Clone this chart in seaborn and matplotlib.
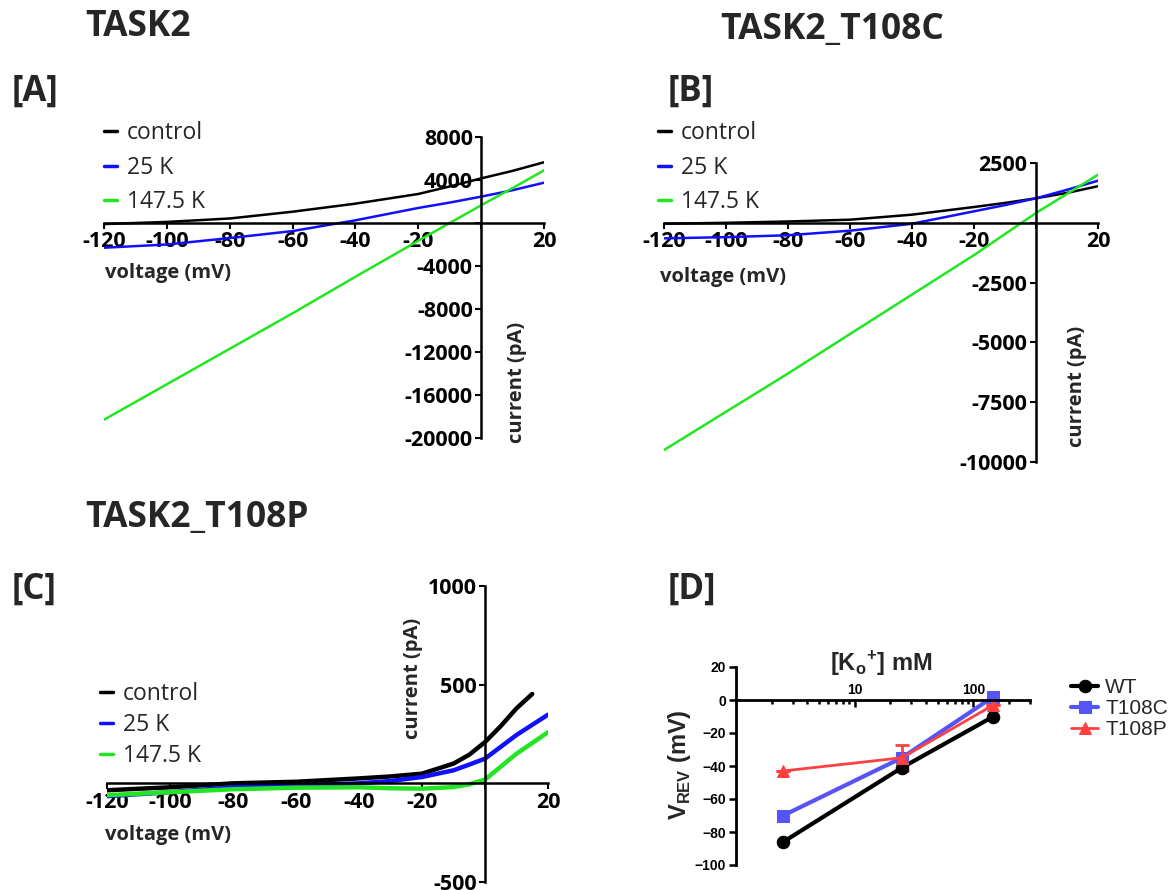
import matplotlib
matplotlib.use("Agg")
import matplotlib.pyplot as plt
import matplotlib.ticker as mticker
import seaborn as sns

W, H = 1175, 890

# [A] TASK2 - current (pA) vs voltage (mV)
a_volt = [-120, -100, -80, -60, -40, -20, -10, 0, 10, 20]
a_control = [-100, 100, 420, 1050, 1800, 2700, 3400, 4150, 4850, 5650]
a_25k = [-2300, -2000, -1400, -750, 250, 1400, 1900, 2450, 3050, 3750]
a_147k = [-18300, -15000, -11700, -8400, -5000, -1650, 0, 1650, 3250, 4900]

# [B] TASK2_T108C
b_volt = [-120, -100, -80, -60, -40, -20, -10, 0, 10, 20]
b_control = [-40, 0, 55, 130, 340, 660, 830, 1025, 1250, 1530]
b_25k = [-650, -600, -520, -330, -40, 480, 740, 1025, 1380, 1760]
b_147k = [-9500, -7900, -6300, -4650, -3000, -1350, -470, 410, 1210, 2010]

# [C] TASK2_T108P
c_volt_ctrl = [-120, -100, -80, -60, -40, -30, -20, -10, -5, 0, 5, 10, 15]
c_control = [-35, -20, 0, 8, 25, 35, 49, 100, 145, 209, 290, 380, 453]
c_volt = [-120, -100, -80, -60, -40, -30, -20, -10, -5, 0, 10, 20]
c_25k = [-65, -45, -20, -10, 0, 12, 32, 66, 95, 125, 245, 348]
c_147k = [-60, -45, -30, -22, -20, -25, -27, -19, -5, 19, 150, 259]

# [D] reversal potential vs external K+
k_out = [2.5, 25, 147.5]
vrev_wt = [-86, -41, -10]
vrev_t108c = [-70, -35, 2]
vrev_t108p = [-43, -35, -3]
err_t108p = [0, 8, 0]

series_names = ["control", "25 K", "147.5 K"]
series_colors = ["black", "#1010ff", "#22e622"]

sns.set_theme(style="ticks")
plt.rcParams["font.family"] = ["Open Sans", "DejaVu Sans"]

fig = plt.figure(figsize=(W / 100, H / 100), dpi=100)


def px_axes(left, right, top, bottom):
    return fig.add_axes([left / W, 1 - bottom / H, (right - left) / W, (bottom - top) / H])


def fig_text(x, y, s, **kw):
    fig.text(x / W, 1 - y / H, s, **kw)


def iv_panel(ax, curves, ylim, ystep, lw, legend_xy, legend_spacing):
    for (volts, amps), name, color in zip(curves, series_names, series_colors):
        sns.lineplot(x=volts, y=amps, color=color, lw=lw, ax=ax, label=name)
    ax.set_xlim(-120, 20)
    ax.set_ylim(*ylim)
    for side in ["top", "right"]:
        ax.spines[side].set_visible(False)
    ax.spines["left"].set_position(("data", 0))
    ax.spines["bottom"].set_position(("data", 0))
    for side in ["left", "bottom"]:
        ax.spines[side].set_linewidth(1.8)
        ax.spines[side].set_color("black")
    xt = list(range(-120, 21, 20))
    ax.set_xticks(xt)
    ax.set_xticklabels(["" if v == 0 else str(v) for v in xt])
    yt = list(range(int(ylim[0]), int(ylim[1]) + 1, ystep))
    ax.set_yticks(yt)
    ax.set_yticklabels(["" if v == 0 else str(v) for v in yt])
    ax.tick_params(direction="out", length=4, width=1.5, pad=2, labelsize=15.5, colors="black")
    for lab in ax.get_xticklabels() + ax.get_yticklabels():
        lab.set_fontweight("bold")
    ax.set_xlabel("")
    ax.set_ylabel("")
    ax.patch.set_alpha(0)
    leg = ax.legend(loc="upper left", bbox_to_anchor=(legend_xy[0] / W, 1 - legend_xy[1] / H),
                    bbox_transform=fig.transFigure, frameon=False, fontsize=16.5,
                    handlelength=0.55, handletextpad=0.45, labelspacing=legend_spacing,
                    borderpad=0, borderaxespad=0)
    for line in leg.get_lines():
        line.set_linewidth(2.5)


ax_a = px_axes(104, 544, 137, 438)
iv_panel(ax_a, [(a_volt, a_control), (a_volt, a_25k), (a_volt, a_147k)],
         (-20000, 8000), 4000, 1.8, (104, 121), 0.46)

ax_b = px_axes(664, 1098, 163, 462)
iv_panel(ax_b, [(b_volt, b_control), (b_volt, b_25k), (b_volt, b_147k)],
         (-10000, 2500), 2500, 1.8, (658, 121), 0.46)

ax_c = px_axes(107, 548, 586, 882)
iv_panel(ax_c, [(c_volt_ctrl, c_control), (c_volt, c_25k), (c_volt, c_147k)],
         (-500, 1000), 500, 3.2, (100, 682), 0.30)

# panel D
ax_d = px_axes(736, 1030, 667, 865)
sns.lineplot(x=k_out, y=vrev_wt, color="black", lw=3, marker="o", ms=9,
             markeredgecolor="black", ax=ax_d, label="WT")
sns.lineplot(x=k_out, y=vrev_t108c, color="#5555f5", lw=3, marker="s", ms=9,
             markeredgecolor="#5555f5", ax=ax_d, label="T108C")
sns.lineplot(x=k_out, y=vrev_t108p, color="#ff4040", lw=2, marker="^", ms=9,
             markeredgecolor="#ff4040", ax=ax_d, label="T108P")
ax_d.errorbar(k_out, vrev_t108p, yerr=err_t108p, fmt="none", ecolor="#ff4040",
              elinewidth=2, capsize=5, capthick=2, zorder=1)
ax_d.set_xscale("log")
ax_d.set_xlim(1, 300)
ax_d.set_ylim(-100, 20)
ax_d.spines["bottom"].set_visible(False)
ax_d.spines["right"].set_visible(False)
ax_d.spines["top"].set_position(("data", 0))
for side in ["left", "top"]:
    ax_d.spines[side].set_linewidth(2)
    ax_d.spines[side].set_color("black")
ax_d.xaxis.tick_top()
ax_d.xaxis.set_major_locator(mticker.FixedLocator([10, 100]))
ax_d.xaxis.set_major_formatter(mticker.FixedFormatter(["10", "100"]))
ax_d.xaxis.set_minor_locator(mticker.LogLocator(base=10, subs=range(2, 10)))
ax_d.xaxis.set_minor_formatter(mticker.NullFormatter())
ax_d.tick_params(axis="x", which="both", direction="in", width=1.8, pad=2, colors="black")
ax_d.tick_params(axis="x", which="major", length=5)
ax_d.tick_params(axis="x", which="minor", length=3)
ax_d.set_yticks(list(range(-100, 21, 20)))
ax_d.tick_params(axis="y", direction="out", length=5, width=1.8, pad=2, colors="black")
for lab in ax_d.get_xticklabels() + ax_d.get_yticklabels():
    lab.set_fontweight("bold")
    lab.set_fontsize(10)
    lab.set_family(["Liberation Sans", "DejaVu Sans"])
ax_d.set_xlabel("")
ax_d.set_ylabel("")
ax_d.patch.set_alpha(0)
leg_d = ax_d.legend(loc="upper left", bbox_to_anchor=(1071 / W, 1 - 678 / H),
                    bbox_transform=fig.transFigure, frameon=False,
                    prop={"family": ["Liberation Sans", "DejaVu Sans"], "size": 15},
                    handlelength=1.3, handletextpad=0.35, labelspacing=0.1,
                    borderpad=0, borderaxespad=0)

# titles, panel letters and axis labels
for x, y, s in [(85, 27, "TASK2"), (720, 30, "TASK2_T108C"), (85, 518, "TASK2_T108P")]:
    fig_text(x, y, s, fontsize=25.5, fontweight="bold", va="center", ha="left")
for x, y, s in [(12, 92, "[A]"), (668, 92, "[B]"), (12, 590, "[C]"), (668, 590, "[D]")]:
    fig_text(x, y, s, fontsize=25, fontweight="bold", va="center", ha="left")
for x, y in [(105, 273), (660, 277), (105, 835)]:
    fig_text(x, y, "voltage (mV)", fontsize=14.5, fontweight="bold", va="center", ha="left")
for x, y in [(517, 382), (1077, 386), (413, 678)]:
    fig_text(x, y, "current (pA)", fontsize=14.5, fontweight="bold", va="center",
             ha="center", rotation=90)
fig_text(881, 671, r"[K$_\mathregular{o}$$^\mathregular{+}$] mM", fontsize=17, fontweight="bold",
         va="baseline", ha="center", family=["Liberation Sans", "DejaVu Sans"])
fig_text(680, 765, r"V$_\mathregular{REV}$ (mV)", fontsize=17, fontweight="bold",
         va="center", ha="center", rotation=90, family=["Liberation Sans", "DejaVu Sans"])

fig.savefig("out.png", dpi=100)
